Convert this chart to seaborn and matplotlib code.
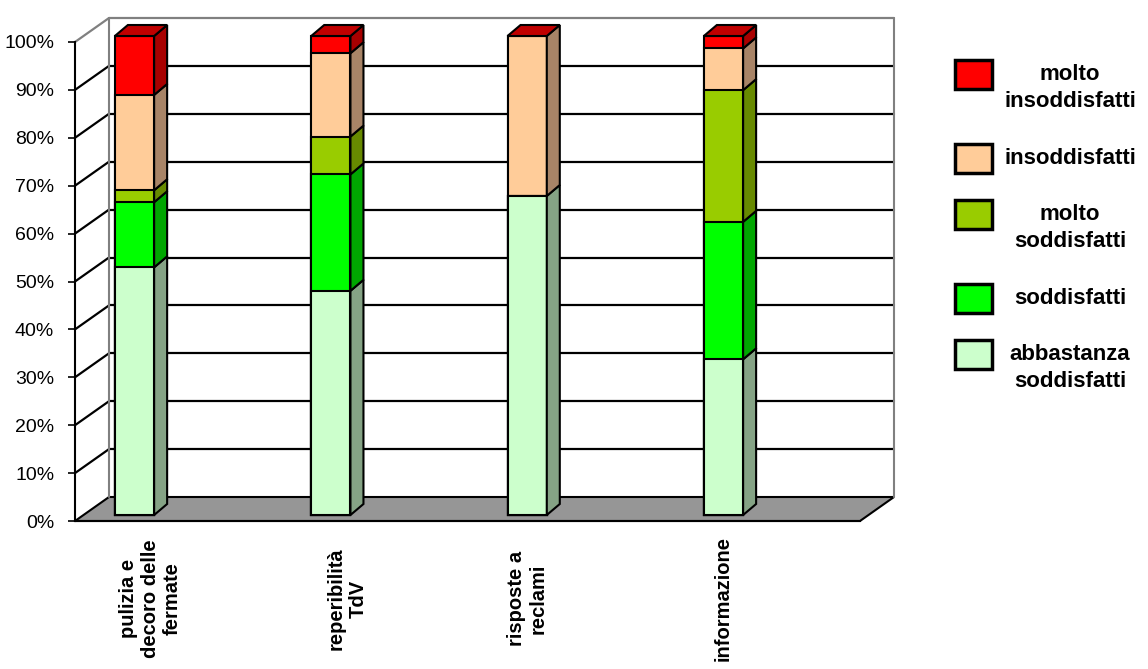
import matplotlib
matplotlib.use("Agg")
import matplotlib.pyplot as plt
import matplotlib.transforms as mtransforms
from matplotlib.patches import Polygon, Rectangle
import numpy as np
import seaborn as sns

# data (percent of answers, bottom to top of the stack)
categories = ["pulizia e\ndecoro delle\nfermate", "reperibilità\nTdV", "risposte a\nreclami", "informazione"]
series_names = ["abbastanza\nsoddisfatti", "soddisfatti", "molto\nsoddisfatti", "insoddisfatti", "molto\ninsoddisfatti"]
abbastanza_soddisfatti = [51.7, 46.8, 66.6, 32.5]
soddisfatti = [13.6, 24.3, 0.0, 28.7]
molto_soddisfatti = [2.5, 7.9, 0.0, 27.5]
insoddisfatti = [19.9, 17.4, 33.4, 8.7]
molto_insoddisfatti = [12.3, 3.6, 0.0, 2.6]
yticks = list(range(0, 101, 10))

front_colors = ["#CCFFCC", "#00FF00", "#99CC00", "#FFCC99", "#FF0000"]
side_colors = ["#85A385", "#00A600", "#678A00", "#A88467", "#A80000"]
top_color = "#C00000"

sns.set_style("white")
plt.rcParams["font.family"] = ["Liberation Sans", "DejaVu Sans"]
plt.rcParams["text.color"] = "black"
plt.rcParams["xtick.color"] = "black"
plt.rcParams["ytick.color"] = "black"

W, H = 1148, 669
fig = plt.figure(figsize=(W / 100, H / 100), dpi=100)
# axes box = front plane of the 3d chart
ax = fig.add_axes([75 / W, 1 - 521 / H, (860 - 75) / W, (521 - 42) / H])

stack = np.array([abbastanza_soddisfatti, soddisfatti, molto_soddisfatti,
                  insoddisfatti, molto_insoddisfatti])
cum = stack.cumsum(axis=0)

# stacked bars: draw the cumulative totals from the tallest down
for i in range(len(series_names) - 1, -1, -1):
    sns.barplot(x=categories, y=cum[i], color=front_colors[i], saturation=1,
                width=0.2, edgecolor="black", linewidth=1.5, errorbar=None,
                ax=ax, zorder=3)
bars = list(ax.patches)

ax.set_xlim(-0.3031, 3.6953)
ax.set_ylim(0, 100)

# bars sit a bit back from the front plane
lift = mtransforms.ScaledTranslation(0, 6 / 100, fig.dpi_scale_trans)
bar_tr = ax.transData + lift
for p in bars:
    p.set_transform(bar_tr)
    p.set_clip_on(False)

# depth of bar sides / tops in data units
px_x = ax.bbox.width / (ax.get_xlim()[1] - ax.get_xlim()[0])
px_y = ax.bbox.height / (ax.get_ylim()[1] - ax.get_ylim()[0])
dxd, dyd = 13 / px_x, 11 / px_y
half = 0.1
for j in range(len(categories)):
    xr = j + half
    for i in range(len(series_names)):
        y0 = cum[i - 1][j] if i > 0 else 0
        y1 = cum[i][j]
        if y1 <= y0:
            continue
        ax.add_patch(Polygon([(xr, y0), (xr + dxd, y0 + dyd), (xr + dxd, y1 + dyd), (xr, y1)],
                             closed=True, fc=side_colors[i], ec="black", lw=1.5,
                             transform=bar_tr, clip_on=False, zorder=3))
    top = cum[-1][j]
    ax.add_patch(Polygon([(j - half, top), (xr, top), (xr + dxd, top + dyd), (j - half + dxd, top + dyd)],
                         closed=True, fc=top_color, ec="black", lw=1.5,
                         transform=bar_tr, clip_on=False, zorder=3))

# walls and floor
ox, oy = 34 / ax.bbox.width, 24 / ax.bbox.height
ax.add_patch(Polygon([(0, 0), (1, 0), (1 + ox, oy), (ox, oy)], closed=True,
                     fc="#969696", ec="black", lw=1.5, transform=ax.transAxes,
                     clip_on=False, zorder=0.4))
for t in yticks[1:]:
    c = "#808080" if t == 100 else "black"
    ax.plot([ox, 1 + ox], [t / 100 + oy] * 2, color=c, lw=1.6,
            transform=ax.transAxes, clip_on=False, zorder=0.5)
    ax.plot([0, ox], [t / 100, t / 100 + oy], color=c, lw=1.6,
            transform=ax.transAxes, clip_on=False, zorder=0.5)
for xe in [ox, 1 + ox]:
    ax.plot([xe, xe], [oy, 1 + oy], color="#808080", lw=1.5,
            transform=ax.transAxes, clip_on=False, zorder=0.5)

ax.spines[["top", "right"]].set_visible(False)
for s in ["left", "bottom"]:
    ax.spines[s].set_color("black")
    ax.spines[s].set_linewidth(1.5)
    ax.spines[s].set_zorder(0.6)

ax.set_yticks(yticks)
ax.set_yticklabels([f"{t}%" for t in yticks])
ax.tick_params(axis="y", left=True, direction="out", length=5, width=1.2,
               labelsize=14, pad=10, colors="black")
ax.tick_params(axis="x", bottom=False, length=0, pad=56)
# excel nudged the first two category labels to the right
label_nudge = [16, 16, 0, 0]
for lab, dx in zip(ax.get_xticklabels(), label_nudge):
    lab.set_rotation(90)
    lab.set_ha("center")
    lab.set_va("center")
    lab.set_multialignment("center")
    lab.set_fontweight("bold")
    lab.set_fontsize(14.5)
    lab.set_transform(lab.get_transform()
                      + mtransforms.ScaledTranslation(dx / 100, 0, fig.dpi_scale_trans))
ax.set_xlabel("")
ax.set_ylabel("")

# legend, top entry first
y = 60
for i in range(len(series_names) - 1, -1, -1):
    fig.add_artist(Rectangle((955 / W, 1 - (y + 29) / H), 37 / W, 29 / H,
                             fc=front_colors[i], ec="black", lw=2.5,
                             transform=fig.transFigure))
    fig.text(1070 / W, 1 - (y + 4) / H, series_names[i], ha="center", va="top",
             multialignment="center", fontsize=16, fontweight="bold",
             linespacing=1.35)
    y += 28 * (series_names[i].count("\n") + 2)

fig.savefig("out.png", dpi=100)
